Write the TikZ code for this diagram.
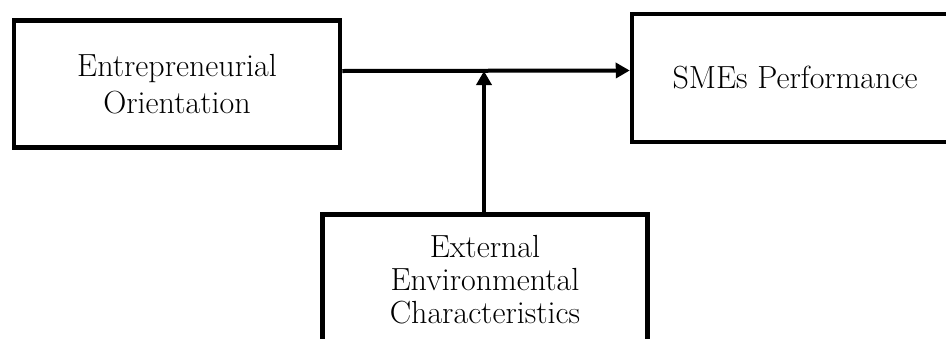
\documentclass[tikz,border=0pt]{standalone}
\usepackage{tikz}
\usetikzlibrary{arrows.meta}

\begin{document}
\begin{tikzpicture}[x=1pt,y=-1pt,
  box/.style={draw=black,line width=4.5pt,align=center,inner sep=0pt},
  link/.style={line width=4pt,-{Triangle[length=14pt,width=15pt]}}]
\useasboundingbox (0,0) rectangle (946,338);
\clip (0,0) rectangle (946,338);

% the three boxes
\node[box,minimum width=326,minimum height=127,
  font=\fontsize{32}{36.5}\selectfont] (eo) at (177,84) {Entrepreneurial\\Orientation};
\node[box,minimum width=326,minimum height=128,
  font=\fontsize{32}{36}\selectfont] (smes) at (795,78) {SMEs Performance};
\node[box,minimum width=325,minimum height=130,
  font=\fontsize{32}{33}\selectfont] (eec) at (485,279.5) {External\\Environmental\\Characteristics};

% links
\coordinate (meet) at (484,71);
\draw[link] ([yshift=13pt]eo.east) -- ([yshift=7.5pt]smes.west);
\draw[link] (eec.north -| meet) -- (meet);
\end{tikzpicture}
\end{document}
